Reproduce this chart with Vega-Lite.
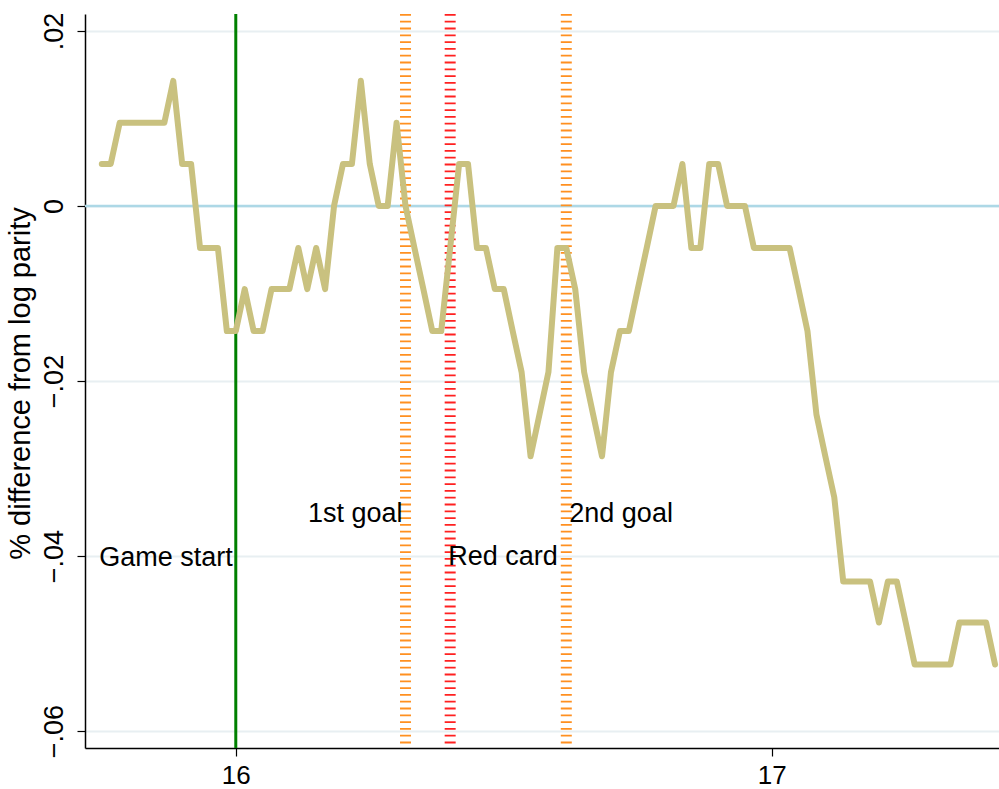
{
  "$schema": "https://vega.github.io/schema/vega-lite/v6.json",
  "width": 914,
  "height": 734,
  "autosize": {"type": "none"},
  "padding": {"left": 85, "top": 14, "right": 0, "bottom": 41},
  "background": "white",
  "config": {"view": {"stroke": null}, "font": "Liberation Sans"},
  "datasets": {
    "series": [
      {"t": 45, "v": 0.0048}, {"t": 46, "v": 0.0048}, {"t": 47, "v": 0.0095}, {"t": 48, "v": 0.0095},
      {"t": 49, "v": 0.0095}, {"t": 50, "v": 0.0095}, {"t": 51, "v": 0.0095}, {"t": 52, "v": 0.0095},
      {"t": 53, "v": 0.0143}, {"t": 54, "v": 0.0048}, {"t": 55, "v": 0.0048}, {"t": 56, "v": -0.0048},
      {"t": 57, "v": -0.0048}, {"t": 58, "v": -0.0048}, {"t": 59, "v": -0.0143}, {"t": 60, "v": -0.0143},
      {"t": 61, "v": -0.0095}, {"t": 62, "v": -0.0143}, {"t": 63, "v": -0.0143}, {"t": 64, "v": -0.0095},
      {"t": 65, "v": -0.0095}, {"t": 66, "v": -0.0095}, {"t": 67, "v": -0.0048}, {"t": 68, "v": -0.0095},
      {"t": 69, "v": -0.0048}, {"t": 70, "v": -0.0095}, {"t": 71, "v": 0}, {"t": 72, "v": 0.0048},
      {"t": 73, "v": 0.0048}, {"t": 74, "v": 0.0143}, {"t": 75, "v": 0.0048}, {"t": 76, "v": 0},
      {"t": 77, "v": 0}, {"t": 78, "v": 0.0095}, {"t": 79, "v": 0}, {"t": 80, "v": -0.0048},
      {"t": 81, "v": -0.0095}, {"t": 82, "v": -0.0143}, {"t": 83, "v": -0.0143}, {"t": 84, "v": -0.0048},
      {"t": 85, "v": 0.0048}, {"t": 86, "v": 0.0048}, {"t": 87, "v": -0.0048}, {"t": 88, "v": -0.0048},
      {"t": 89, "v": -0.0095}, {"t": 90, "v": -0.0095}, {"t": 91, "v": -0.0143}, {"t": 92, "v": -0.019},
      {"t": 93, "v": -0.0286}, {"t": 94, "v": -0.0238}, {"t": 95, "v": -0.019}, {"t": 96, "v": -0.0048},
      {"t": 97, "v": -0.0048}, {"t": 98, "v": -0.0095}, {"t": 99, "v": -0.019}, {"t": 100, "v": -0.0238},
      {"t": 101, "v": -0.0286}, {"t": 102, "v": -0.019}, {"t": 103, "v": -0.0143}, {"t": 104, "v": -0.0143},
      {"t": 105, "v": -0.0095}, {"t": 106, "v": -0.0048}, {"t": 107, "v": 0}, {"t": 108, "v": 0},
      {"t": 109, "v": 0}, {"t": 110, "v": 0.0048}, {"t": 111, "v": -0.0048}, {"t": 112, "v": -0.0048},
      {"t": 113, "v": 0.0048}, {"t": 114, "v": 0.0048}, {"t": 115, "v": 0}, {"t": 116, "v": 0},
      {"t": 117, "v": 0}, {"t": 118, "v": -0.0048}, {"t": 119, "v": -0.0048}, {"t": 120, "v": -0.0048},
      {"t": 121, "v": -0.0048}, {"t": 122, "v": -0.0048}, {"t": 123, "v": -0.0095}, {"t": 124, "v": -0.0143},
      {"t": 125, "v": -0.0238}, {"t": 126, "v": -0.0286}, {"t": 127, "v": -0.0333}, {"t": 128, "v": -0.0429},
      {"t": 129, "v": -0.0429}, {"t": 130, "v": -0.0429}, {"t": 131, "v": -0.0429}, {"t": 132, "v": -0.0476},
      {"t": 133, "v": -0.0429}, {"t": 134, "v": -0.0429}, {"t": 135, "v": -0.0476}, {"t": 136, "v": -0.0524},
      {"t": 137, "v": -0.0524}, {"t": 138, "v": -0.0524}, {"t": 139, "v": -0.0524}, {"t": 140, "v": -0.0524},
      {"t": 141, "v": -0.0476}, {"t": 142, "v": -0.0476}, {"t": 143, "v": -0.0476}, {"t": 144, "v": -0.0476},
      {"t": 145, "v": -0.0524}
    ],
    "zero": [{"v": 0}],
    "start": [{"t": 60}],
    "goals": [{"t": 79}, {"t": 97}],
    "card": [{"t": 84}]
  },
  "layer": [
    {
      "data": {"name": "series"},
      "mark": {"type": "line", "color": "#C9C17F", "strokeWidth": 5, "opacity": 0},
      "encoding": {
        "x": {
          "field": "t", "type": "quantitative",
          "scale": {"domain": [43.12, 145.44], "nice": false, "zero": false},
          "axis": {
            "values": [60, 120], "labelExpr": "format(datum.value / 60 + 15, 'd')",
            "title": null, "grid": false, "tickSize": 8, "tickColor": "black", "tickWidth": 1.2,
            "domainColor": "black", "domainWidth": 1.5, "labelFontSize": 26, "labelColor": "black",
            "labelFont": "Liberation Sans", "labelPadding": 6, "zindex": 0
          }
        },
        "y": {
          "field": "v", "type": "quantitative",
          "scale": {"domain": [-0.06194, 0.02194], "nice": false, "zero": false},
          "axis": {
            "values": [-0.06, -0.04, -0.02, 0, 0.02],
            "labelExpr": "datum.value == 0 ? '0' : replace(replace(format(datum.value, '.2f'), '0.', '.'), '-', '\u2212')",
            "grid": true, "gridColor": "#E8EFF2", "gridWidth": 2,
            "tickSize": 8, "tickColor": "black", "tickWidth": 1.2,
            "domainColor": "black", "domainWidth": 1.5,
            "labelAngle": 270, "labelAlign": "center", "labelBaseline": "alphabetic", "labelPadding": 15,
            "labelFontSize": 27, "labelColor": "black", "labelFont": "Liberation Sans",
            "title": "% difference from log parity", "titleFontSize": 29, "titleFontWeight": "normal",
            "titleColor": "black", "titleFont": "Liberation Sans", "titleAngle": 270,
            "titleAlign": "center", "titleBaseline": "alphabetic", "titleX": -56, "titleY": 369,
            "zindex": 0
          }
        }
      }
    },
    {
      "data": {"name": "zero"},
      "mark": {"type": "rule", "color": "#ADD8E6", "strokeWidth": 2.5},
      "encoding": {"y": {"field": "v", "type": "quantitative"}}
    },
    {
      "data": {"name": "start"},
      "mark": {"type": "rule", "color": "#008000", "strokeWidth": 3},
      "encoding": {"x": {"field": "t", "type": "quantitative"}}
    },
    {
      "data": {"name": "goals"},
      "mark": {"type": "rule", "color": "#FF9020", "strokeWidth": 11, "strokeDash": [1.8, 5]},
      "encoding": {"x": {"field": "t", "type": "quantitative"}}
    },
    {
      "data": {"name": "card"},
      "mark": {"type": "rule", "color": "#FF2020", "strokeWidth": 11, "strokeDash": [1.8, 5]},
      "encoding": {"x": {"field": "t", "type": "quantitative"}}
    },
    {
      "data": {"name": "series"},
      "mark": {"type": "line", "color": "#C9C17F", "strokeWidth": 6, "strokeJoin": "round", "strokeCap": "round"},
      "encoding": {
        "x": {"field": "t", "type": "quantitative"},
        "y": {"field": "v", "type": "quantitative"}
      }
    },
    {
      "data": {"values": [{"t": 60, "v": -0.0411, "label": "Game start"}, {"t": 79, "v": -0.0361, "label": "1st goal"}]},
      "mark": {"type": "text", "align": "right", "baseline": "alphabetic", "dx": -3, "fontSize": 27, "font": "Liberation Sans", "color": "black"},
      "encoding": {
        "x": {"field": "t", "type": "quantitative"},
        "y": {"field": "v", "type": "quantitative"},
        "text": {"field": "label"}
      }
    },
    {
      "data": {"values": [{"t": 84, "v": -0.041, "label": "Red card"}]},
      "mark": {"type": "text", "align": "left", "baseline": "alphabetic", "dx": -2, "fontSize": 27, "font": "Liberation Sans", "color": "black"},
      "encoding": {
        "x": {"field": "t", "type": "quantitative"},
        "y": {"field": "v", "type": "quantitative"},
        "text": {"field": "label"}
      }
    },
    {
      "data": {"values": [{"t": 97, "v": -0.0361, "label": "2nd goal"}]},
      "mark": {"type": "text", "align": "left", "baseline": "alphabetic", "dx": 3, "fontSize": 27, "font": "Liberation Sans", "color": "black"},
      "encoding": {
        "x": {"field": "t", "type": "quantitative"},
        "y": {"field": "v", "type": "quantitative"},
        "text": {"field": "label"}
      }
    }
  ]
}
